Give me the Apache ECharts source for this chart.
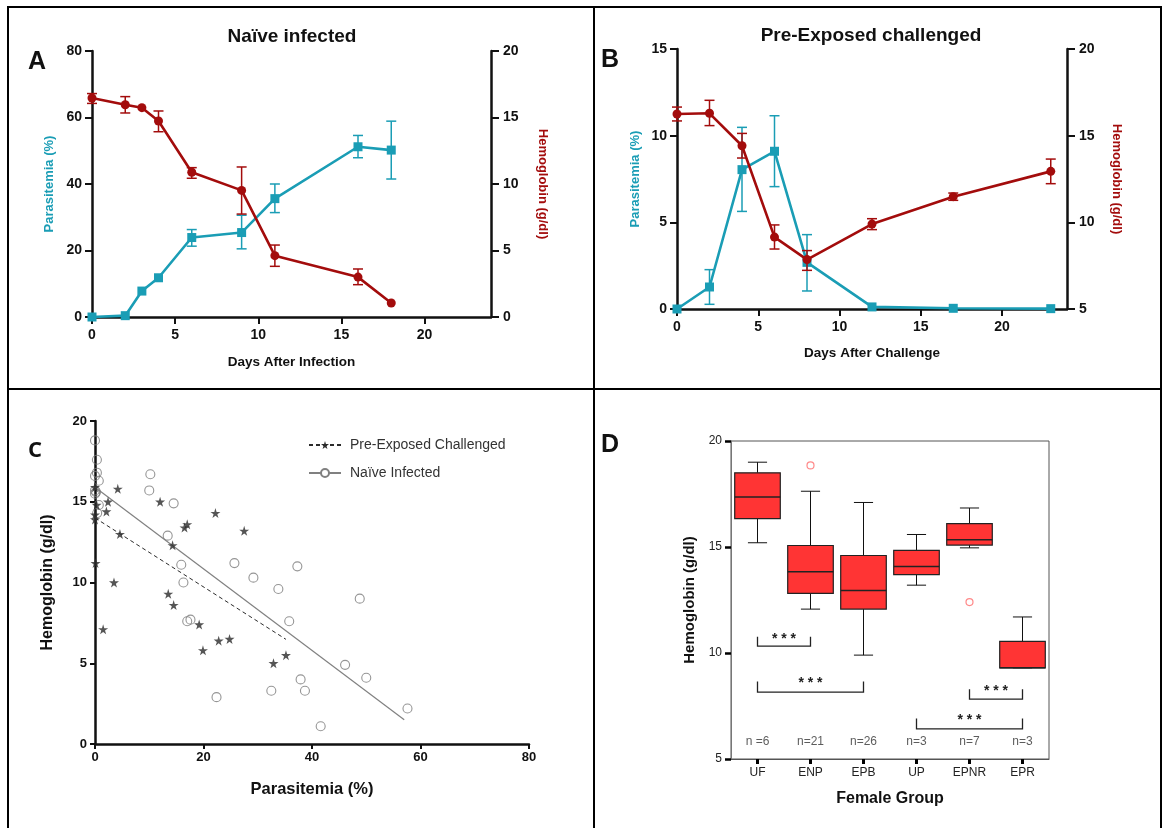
<!DOCTYPE html>
<html>
<head>
<meta charset="utf-8">
<title>Parasitemia and hemoglobin</title>
<script src="https://cdn.jsdelivr.net/npm/echarts@6/dist/echarts.min.js"></script>
<style>
  html, body { margin: 0; padding: 0; background: #fff; }
  #chart { width: 1163px; height: 828px; }
</style>
</head>
<body>
<div id="chart"></div>
<script>
// ---- panel A: naive infected ----
const daysA = [0, 2, 3, 4, 6, 9, 11, 16, 18];
const paraA = [0, 0.4, 7.8, 11.8, 23.9, 25.4, 35.6, 51.2, 50.2];
const paraA_lo = [null, null, null, null, 21.3, 20.5, 31.4, 47.9, 41.5];
const paraA_hi = [null, null, null, null, 26.3, 30.6, 40.0, 54.6, 58.9];
const hbA = [16.47, 15.96, 15.74, 14.74, 10.88, 9.52, 4.61, 3.0, 1.05];
const hbA_lo = [16.06, 15.34, null, 13.93, 10.43, 7.74, 3.81, 2.43, null];
const hbA_hi = [16.8, 16.57, null, 15.49, 11.23, 11.28, 5.41, 3.61, null];

// ---- panel B: pre-exposed challenged ----
const daysB = [0, 2, 4, 6, 8, 12, 17, 23];
const paraB = [0, 1.27, 8.04, 9.1, 2.69, 0.12, 0.04, 0.02];
const paraB_lo = [null, 0.27, 5.63, 7.06, 1.04, null, null, null];
const paraB_hi = [null, 2.27, 10.48, 11.15, 4.29, null, null, null];
const hbB = [16.25, 16.29, 14.42, 9.15, 7.85, 9.9, 11.48, 12.94];
const hbB_lo = [15.85, 15.58, 13.71, 8.46, 7.23, 9.58, 11.27, 12.23];
const hbB_hi = [16.65, 17.04, 15.13, 9.85, 8.37, 10.21, 11.69, 13.65];

// ---- panel C: scatter of hemoglobin vs parasitemia ----
const preExposedPts = [
  [4.2, 15.8], [12.0, 15.0], [2.4, 15.0], [2.1, 14.4], [22.2, 14.3], [17.0, 13.6],
  [16.5, 13.4], [27.5, 13.2], [4.6, 13.0], [14.3, 12.3], [0.1, 11.2], [3.5, 10.0],
  [13.5, 9.3], [14.5, 8.6], [1.5, 7.1], [19.2, 7.4], [22.8, 6.4], [24.8, 6.5],
  [19.9, 5.8], [32.9, 5.0], [35.2, 5.5], [0, 15.9], [0, 14.2], [0, 13.9], [0.3, 14.8]
];
const naivePts = [
  [0, 18.8], [0.35, 17.6], [0.35, 16.8], [0, 16.6], [0.7, 16.3], [0, 15.7], [0.2, 15.6],
  [0, 15.5], [0.7, 14.8], [0.4, 14.3], [10.2, 16.7], [10.0, 15.7], [14.5, 14.9],
  [13.4, 12.9], [15.9, 11.1], [25.7, 11.2], [16.3, 10.0], [29.2, 10.3], [37.3, 11.0],
  [33.8, 9.6], [48.8, 9.0], [17.0, 7.6], [17.6, 7.7], [35.8, 7.6], [46.1, 4.9],
  [50.0, 4.1], [37.9, 4.0], [38.7, 3.3], [32.5, 3.3], [22.4, 2.9], [57.6, 2.2], [41.6, 1.1]
];
const fitPreExposed = [[0, 14.0], [35.2, 6.48]];
const fitNaive = [[0, 15.9], [57.0, 1.5]];

// ---- panel D: box plot by female group ----
const groups = ['UF', 'ENP', 'EPB', 'UP', 'EPNR', 'EPR'];
const groupN = ['n =6', 'n=21', 'n=26', 'n=3', 'n=7', 'n=3'];
// min, Q1, median, Q3, max
const boxStats = [
  [15.2, 16.34, 17.36, 18.5, 19.0],
  [12.07, 12.81, 13.83, 15.07, 17.63],
  [9.9, 12.07, 12.95, 14.6, 17.1],
  [13.2, 13.7, 14.08, 14.84, 15.59],
  [14.96, 15.09, 15.34, 16.1, 16.84],
  [9.3, 9.3, 9.3, 10.55, 11.7]
];
const outliers = [[1, 18.85], [4, 12.4]];
// from group, to group, bar level, tick top
const brackets = [
  [0, 1, 10.32, 10.77],
  [0, 2, 8.15, 8.65],
  [4, 5, 7.82, 8.29],
  [3, 5, 6.42, 6.91]
];

const CYAN = '#1a9db5';
const DRED = '#a30c0c';
const FONT = 'Liberation Sans, Arial, sans-serif';
const STAR = 'path://M50,0 L61,35 L98,35 L68,57 L79,91 L50,70 L21,91 L32,57 L2,35 L39,35 Z';

const zip = (xs, ys) => xs.map((x, i) => [x, ys[i]]);
const zip3 = (xs, a, b) => xs.map((x, i) => [x, a[i] == null ? NaN : a[i], b[i] == null ? NaN : b[i]]);

function errRender(params, api) {
  const x = api.value(0), lo = api.value(1), hi = api.value(2);
  if (isNaN(lo) || isNaN(hi)) return null;
  const p1 = api.coord([x, hi]);
  const p2 = api.coord([x, lo]);
  const w = 5;
  const style = { stroke: api.visual('color'), lineWidth: 1.5 };
  return {
    type: 'group',
    children: [
      { type: 'line', shape: { x1: p1[0], y1: p1[1], x2: p2[0], y2: p2[1] }, style: style },
      { type: 'line', shape: { x1: p1[0] - w, y1: p1[1], x2: p1[0] + w, y2: p1[1] }, style: style },
      { type: 'line', shape: { x1: p2[0] - w, y1: p2[1], x2: p2[0] + w, y2: p2[1] }, style: style }
    ]
  };
}

function boxRender(params, api) {
  const c = api.value(0);
  const mn = api.value(1), q1 = api.value(2), md = api.value(3), q3 = api.value(4), mx = api.value(5);
  const bw = api.size([1, 0])[0] * 0.86;
  const hw = bw / 2, cw = bw * 0.21;
  const pMax = api.coord([c, mx]), pQ3 = api.coord([c, q3]), pMd = api.coord([c, md]);
  const pQ1 = api.coord([c, q1]), pMin = api.coord([c, mn]);
  const x = pMax[0];
  const wStyle = { stroke: '#111', lineWidth: 1 };
  return {
    type: 'group',
    children: [
      { type: 'line', shape: { x1: x, y1: pMax[1], x2: x, y2: pQ3[1] }, style: wStyle },
      { type: 'line', shape: { x1: x, y1: pQ1[1], x2: x, y2: pMin[1] }, style: wStyle },
      { type: 'line', shape: { x1: x - cw, y1: pMax[1], x2: x + cw, y2: pMax[1] }, style: wStyle },
      { type: 'line', shape: { x1: x - cw, y1: pMin[1], x2: x + cw, y2: pMin[1] }, style: wStyle },
      { type: 'rect', shape: { x: x - hw, y: pQ3[1], width: bw, height: pQ1[1] - pQ3[1] },
        style: { fill: '#ff3434', stroke: '#222', lineWidth: 1.2 } },
      { type: 'line', shape: { x1: x - hw, y1: pMd[1], x2: x + hw, y2: pMd[1] },
        style: { stroke: '#222', lineWidth: 1.5 } }
    ]
  };
}

function bracketRender(params, api) {
  const a = api.value(0), b = api.value(1), yl = api.value(2), yt = api.value(3);
  const pa = api.coord([a, yl]), pb = api.coord([b, yl]);
  const ta = api.coord([a, yt]), tb = api.coord([b, yt]);
  return {
    type: 'group',
    children: [
      { type: 'polyline', shape: { points: [ta, pa, pb, tb] },
        style: { stroke: '#222', lineWidth: 1.3, fill: null } },
      { type: 'text', x: (pa[0] + pb[0]) / 2, y: ta[1] + 2,
        style: { text: '* * *', fill: '#222', font: 'bold 14px ' + FONT, align: 'center', verticalAlign: 'middle' } }
    ]
  };
}

const axisTxt = { fontFamily: FONT, fontWeight: 'bold', fontSize: 14, color: '#111' };
const blackLine = { show: true, lineStyle: { color: '#111', width: 2.5 } };
const blackTick = { show: true, length: 7, lineStyle: { color: '#111', width: 2 } };

const myChart = echarts.init(document.getElementById('chart'));

const option = {
  backgroundColor: '#fff',
  animation: false,
  title: [
    { text: 'Naïve infected', left: 292, top: 27, textAlign: 'center', padding: 0,
      textStyle: { fontFamily: FONT, fontSize: 19, fontWeight: 'bold', color: '#111' } },
    { text: 'Pre-Exposed challenged', left: 871, top: 26, textAlign: 'center', padding: 0,
      textStyle: { fontFamily: FONT, fontSize: 19, fontWeight: 'bold', color: '#111' } },
    { text: 'A', left: 28, top: 50, padding: 0, textStyle: { fontFamily: FONT, fontSize: 25, fontWeight: 'bold', color: '#111' } },
    { text: 'B', left: 601, top: 48, padding: 0, textStyle: { fontFamily: FONT, fontSize: 25, fontWeight: 'bold', color: '#111' } },
    { text: 'C', left: 28, top: 440, padding: 0, textStyle: { fontFamily: 'Open Sans, ' + FONT, fontSize: 22, fontWeight: 'bold', color: '#111' } },
    { text: 'D', left: 601, top: 433, padding: 0, textStyle: { fontFamily: FONT, fontSize: 25, fontWeight: 'bold', color: '#111' } }
  ],
  legend: {
    orient: 'vertical',
    left: 303,
    top: 433,
    itemWidth: 32,
    itemHeight: 10,
    itemGap: 14,
    data: ['Pre-Exposed Challenged', 'Naïve Infected'],
    textStyle: { fontFamily: 'Liberation Sans Narrow, ' + FONT, fontSize: 14, color: '#333', padding: [0, 0, 0, 4] }
  },
  graphic: [
    { type: 'rect', shape: { x: 8, y: 7, width: 1153, height: 840 }, style: { fill: null, stroke: '#000', lineWidth: 2 }, silent: true },
    { type: 'line', shape: { x1: 594, y1: 7, x2: 594, y2: 840 }, style: { stroke: '#000', lineWidth: 2 }, silent: true },
    { type: 'line', shape: { x1: 8, y1: 389, x2: 1161, y2: 389 }, style: { stroke: '#000', lineWidth: 2 }, silent: true }
  ],
  grid: [
    { left: 92, top: 51, width: 399, height: 266 },
    { left: 677, top: 49, width: 390, height: 260 },
    { left: 95, top: 421, width: 434, height: 323 },
    { left: 731, top: 441, width: 318, height: 318, show: true, borderColor: '#555', borderWidth: 1 }
  ],
  xAxis: [
    { gridIndex: 0, type: 'value', min: 0, max: 24, interval: 5,
      name: 'Days After Infection', nameLocation: 'middle', nameGap: 38,
      nameTextStyle: { fontFamily: FONT, fontWeight: 'bold', fontSize: 13.5, color: '#111' },
      axisLine: blackLine, axisTick: Object.assign({ customValues: [0, 5, 10, 15, 20] }, blackTick),
      axisLabel: Object.assign({ margin: 11, customValues: [0, 5, 10, 15, 20] }, axisTxt), splitLine: { show: false } },
    { gridIndex: 1, type: 'value', min: 0, max: 24, interval: 5,
      name: 'Days After Challenge', nameLocation: 'middle', nameGap: 37,
      nameTextStyle: { fontFamily: FONT, fontWeight: 'bold', fontSize: 13.5, color: '#111' },
      axisLine: blackLine, axisTick: Object.assign({ customValues: [0, 5, 10, 15, 20] }, blackTick),
      axisLabel: Object.assign({ margin: 11, customValues: [0, 5, 10, 15, 20] }, axisTxt), splitLine: { show: false } },
    { gridIndex: 2, type: 'value', min: 0, max: 80, interval: 20,
      name: 'Parasitemia (%)', nameLocation: 'middle', nameGap: 37,
      nameTextStyle: { fontFamily: FONT, fontWeight: 'bold', fontSize: 16.5, color: '#111' },
      axisLine: blackLine, axisTick: { show: true, length: 5, lineStyle: { color: '#111', width: 2 } },
      axisLabel: Object.assign({}, axisTxt, { fontSize: 13, margin: 7 }), splitLine: { show: false } },
    { gridIndex: 3, type: 'category', data: groups, boundaryGap: true,
      name: 'Female Group', nameLocation: 'middle', nameGap: 32,
      nameTextStyle: { fontFamily: FONT, fontWeight: 'bold', fontSize: 16, color: '#111' },
      axisLine: { show: true, lineStyle: { color: '#555', width: 1 } },
      axisTick: { show: true, alignWithLabel: true, length: 5, lineStyle: { color: '#000', width: 3 } },
      axisLabel: { fontFamily: FONT, fontSize: 12, color: '#222', margin: 8 }, splitLine: { show: false } }
  ],
  yAxis: [
    { gridIndex: 0, type: 'value', min: 0, max: 80, interval: 20,
      name: 'Parasitemia (%)', nameLocation: 'middle', nameGap: 36,
      nameTextStyle: { fontFamily: FONT, fontWeight: 'bold', fontSize: 13, color: CYAN },
      axisLine: blackLine, axisTick: blackTick, axisLabel: Object.assign({ margin: 10 }, axisTxt), splitLine: { show: false } },
    { gridIndex: 0, type: 'value', position: 'right', min: 0, max: 20, interval: 5,
      name: 'Hemoglobin (g/dl)', nameLocation: 'middle', nameGap: 45, nameRotate: -90,
      nameTextStyle: { fontFamily: FONT, fontWeight: 'bold', fontSize: 13, color: DRED },
      axisLine: blackLine, axisTick: Object.assign({}, blackTick, { length: 8 }),
      axisLabel: Object.assign({ margin: 12 }, axisTxt), splitLine: { show: false } },
    { gridIndex: 1, type: 'value', min: 0, max: 15, interval: 5,
      name: 'Parasitemia (%)', nameLocation: 'middle', nameGap: 35,
      nameTextStyle: { fontFamily: FONT, fontWeight: 'bold', fontSize: 13, color: CYAN },
      axisLine: blackLine, axisTick: blackTick, axisLabel: Object.assign({ margin: 10 }, axisTxt), splitLine: { show: false } },
    { gridIndex: 1, type: 'value', position: 'right', min: 5, max: 20, interval: 5,
      name: 'Hemoglobin (g/dl)', nameLocation: 'middle', nameGap: 43, nameRotate: -90,
      nameTextStyle: { fontFamily: FONT, fontWeight: 'bold', fontSize: 13, color: DRED },
      axisLine: blackLine, axisTick: Object.assign({}, blackTick, { length: 8 }),
      axisLabel: Object.assign({ margin: 12 }, axisTxt), splitLine: { show: false } },
    { gridIndex: 2, type: 'value', min: 0, max: 20, interval: 5,
      name: 'Hemoglobin (g/dl)', nameLocation: 'middle', nameGap: 39,
      nameTextStyle: { fontFamily: FONT, fontWeight: 'bold', fontSize: 16, color: '#111' },
      axisLine: blackLine, axisTick: { show: true, length: 5, lineStyle: { color: '#111', width: 2 } },
      axisLabel: Object.assign({}, axisTxt, { fontSize: 13, margin: 8 }), splitLine: { show: false } },
    { gridIndex: 3, type: 'value', min: 5, max: 20, interval: 5,
      name: 'Hemoglobin (g/dl)', nameLocation: 'middle', nameGap: 34,
      nameTextStyle: { fontFamily: FONT, fontWeight: 'bold', fontSize: 15, color: '#111' },
      axisLine: { show: true, lineStyle: { color: '#777', width: 1 } },
      axisTick: { show: true, length: 6, lineStyle: { color: '#000', width: 2.5 } },
      axisLabel: { fontFamily: FONT, fontSize: 12, color: '#222', margin: 9 }, splitLine: { show: false } }
  ],
  series: [
    // panel A
    { type: 'custom', name: 'paraA err', xAxisIndex: 0, yAxisIndex: 0, renderItem: errRender,
      itemStyle: { color: CYAN }, data: zip3(daysA, paraA_lo, paraA_hi), encode: { x: 0, y: [1, 2] }, z: 2 },
    { type: 'line', name: 'paraA', xAxisIndex: 0, yAxisIndex: 0, data: zip(daysA, paraA),
      symbol: 'rect', symbolSize: 9, itemStyle: { color: CYAN }, lineStyle: { color: CYAN, width: 2.6 }, z: 3 },
    { type: 'custom', name: 'hbA err', xAxisIndex: 0, yAxisIndex: 1, renderItem: errRender,
      itemStyle: { color: DRED }, data: zip3(daysA, hbA_lo, hbA_hi), encode: { x: 0, y: [1, 2] }, z: 4 },
    { type: 'line', name: 'hbA', xAxisIndex: 0, yAxisIndex: 1, data: zip(daysA, hbA),
      symbol: 'circle', symbolSize: 9, itemStyle: { color: DRED }, lineStyle: { color: DRED, width: 2.6 }, z: 5 },
    // panel B
    { type: 'custom', name: 'paraB err', xAxisIndex: 1, yAxisIndex: 2, renderItem: errRender,
      itemStyle: { color: CYAN }, data: zip3(daysB, paraB_lo, paraB_hi), encode: { x: 0, y: [1, 2] }, z: 2 },
    { type: 'line', name: 'paraB', xAxisIndex: 1, yAxisIndex: 2, data: zip(daysB, paraB),
      symbol: 'rect', symbolSize: 9, itemStyle: { color: CYAN }, lineStyle: { color: CYAN, width: 2.6 }, z: 3 },
    { type: 'custom', name: 'hbB err', xAxisIndex: 1, yAxisIndex: 3, renderItem: errRender,
      itemStyle: { color: DRED }, data: zip3(daysB, hbB_lo, hbB_hi), encode: { x: 0, y: [1, 2] }, z: 4 },
    { type: 'line', name: 'hbB', xAxisIndex: 1, yAxisIndex: 3, data: zip(daysB, hbB),
      symbol: 'circle', symbolSize: 9, itemStyle: { color: DRED }, lineStyle: { color: DRED, width: 2.6 }, z: 5 },
    // panel C
    { type: 'line', name: 'Pre-Exposed Challenged', xAxisIndex: 2, yAxisIndex: 4, data: fitPreExposed,
      symbol: STAR, symbolSize: 9, showSymbol: false, itemStyle: { color: '#2b2b2b' },
      lineStyle: { color: '#2b2b2b', width: 1, type: [4, 3] }, z: 3 },
    { type: 'line', name: 'Naïve Infected', xAxisIndex: 2, yAxisIndex: 4, data: fitNaive,
      symbol: 'emptyCircle', symbolSize: 8, showSymbol: false, itemStyle: { color: '#808080', borderWidth: 1 },
      lineStyle: { color: '#808080', width: 1.2 }, z: 3 },
    { type: 'scatter', name: 'naive pts', xAxisIndex: 2, yAxisIndex: 4, data: naivePts,
      symbol: 'circle', symbolSize: 9,
      itemStyle: { color: 'rgba(255,255,255,0)', borderColor: '#7a7a7a', borderWidth: 1.1 }, z: 4 },
    { type: 'scatter', name: 'pre pts', xAxisIndex: 2, yAxisIndex: 4, data: preExposedPts,
      symbol: STAR, symbolSize: 10, itemStyle: { color: '#2b2b2b' }, z: 5 },
    // panel D
    { type: 'custom', name: 'boxes', xAxisIndex: 3, yAxisIndex: 5, renderItem: boxRender,
      data: boxStats.map((s, i) => [i].concat(s)), encode: { x: 0, y: [1, 2, 3, 4, 5] }, z: 3 },
    { type: 'scatter', name: 'outliers', xAxisIndex: 3, yAxisIndex: 5, data: outliers,
      symbol: 'circle', symbolSize: 7,
      itemStyle: { color: 'rgba(255,255,255,0)', borderColor: '#ff6b6b', borderWidth: 1.2 }, z: 4 },
    { type: 'custom', name: 'brackets', xAxisIndex: 3, yAxisIndex: 5, renderItem: bracketRender,
      data: brackets, encode: { x: [0, 1], y: [2, 3] }, z: 4 },
    { type: 'scatter', name: 'n', xAxisIndex: 3, yAxisIndex: 5,
      data: groups.map((g, i) => [i, 5.8]), symbolSize: 0,
      label: { show: true, position: 'inside', formatter: p => groupN[p.dataIndex],
        fontFamily: 'Liberation Sans Narrow, ' + FONT, fontSize: 12, color: '#333' }, z: 4 }
  ]
};

myChart.setOption(option);
</script>
</body>
</html>
